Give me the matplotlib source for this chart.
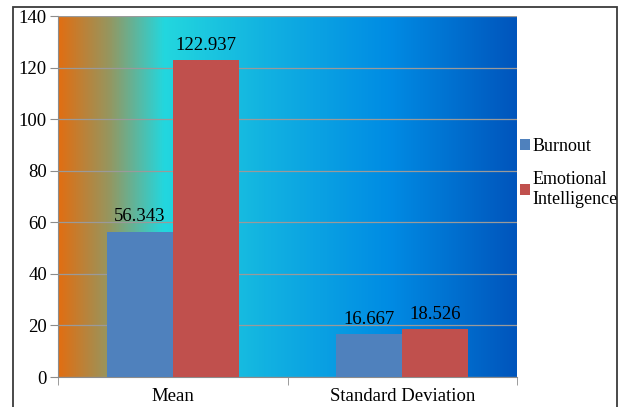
import matplotlib
matplotlib.use("Agg")
import matplotlib.pyplot as plt
import numpy as np
from matplotlib.colors import LinearSegmentedColormap
from matplotlib.patches import Rectangle

categories = ["Mean", "Standard Deviation"]
burnout = [56.343, 16.667]
emotional = [122.937, 18.526]
series_names = ["Burnout", "Emotional\nIntelligence"]
yticks = [0, 20, 40, 60, 80, 100, 120, 140]

plt.rcParams['font.family'] = ['Liberation Serif', 'DejaVu Serif']
FS = 13.5

fig = plt.figure(figsize=(6.19, 4.07), dpi=100)
ax = fig.add_axes([58/619, 30/407, 459/619, 361/407])

# outer frame
fig.patches.append(Rectangle((13/619, -0.02), 604/619, (407-7)/407 + 0.02,
                             transform=fig.transFigure, fill=False,
                             edgecolor='#3a3a3a', linewidth=1.3))

# gradient background
cmap = LinearSegmentedColormap.from_list("bg", [
    (0.0, (225/255, 110/255, 18/255)),
    (0.11, (150/255, 150/255, 95/255)),
    (0.23, (35/255, 215/255, 222/255)),
    (0.45, (18/255, 178/255, 225/255)),
    (0.72, (0/255, 140/255, 228/255)),
    (1.0, (0/255, 85/255, 188/255)),
])
grad = np.linspace(0, 1, 512).reshape(1, -1)
ax.imshow(grad, aspect='auto', cmap=cmap, extent=[-0.5, 1.5, 0, 140],
          zorder=0, interpolation='bilinear')

x = np.arange(len(categories))
w = 0.288
b1 = ax.bar(x - w/2, burnout, w, color='#4F81BD', label=series_names[0], zorder=3)
b2 = ax.bar(x + w/2, emotional, w, color='#C0504D', label=series_names[1], zorder=3)

for bars, vals in ((b1, burnout), (b2, emotional)):
    for r, v in zip(bars, vals):
        ax.text(r.get_x() + r.get_width()/2, v + 2.5, f"{v:.3f}",
                ha='center', va='bottom', fontsize=FS, color='black', zorder=4)

ax.set_xlim(-0.5, 1.5)
ax.set_ylim(0, 140)
ax.set_yticks(yticks)
ax.set_yticklabels([str(t) for t in yticks], fontsize=FS)
ax.yaxis.grid(True, color='#9a9a9a', linewidth=0.9, zorder=1)
ax.set_axisbelow(False)
for gl in ax.get_ygridlines():
    gl.set_zorder(1)

ax.set_xticks(x)
ax.set_xticklabels(categories, fontsize=FS)
ax.set_xticks([-0.5, 0.5, 1.5], minor=True)
ax.tick_params(axis='x', which='major', length=0, pad=8)
ax.tick_params(axis='x', which='minor', length=6, color='#8c8c8c')
ax.tick_params(axis='y', length=6, color='#8c8c8c', pad=2)

for s in ['top', 'right']:
    ax.spines[s].set_visible(False)
for s in ['left', 'bottom']:
    ax.spines[s].set_color('#8c8c8c')

leg = fig.legend(handles=[b1, b2], labels=series_names, loc='upper left',
                 bbox_to_anchor=(520/619, 1 - 138/407), frameon=False,
                 fontsize=13, handlelength=0.55, handleheight=0.55,
                 handletextpad=0.15, labelspacing=0.9, borderaxespad=0,
                 borderpad=0)

fig.savefig("out.png", dpi=100)
